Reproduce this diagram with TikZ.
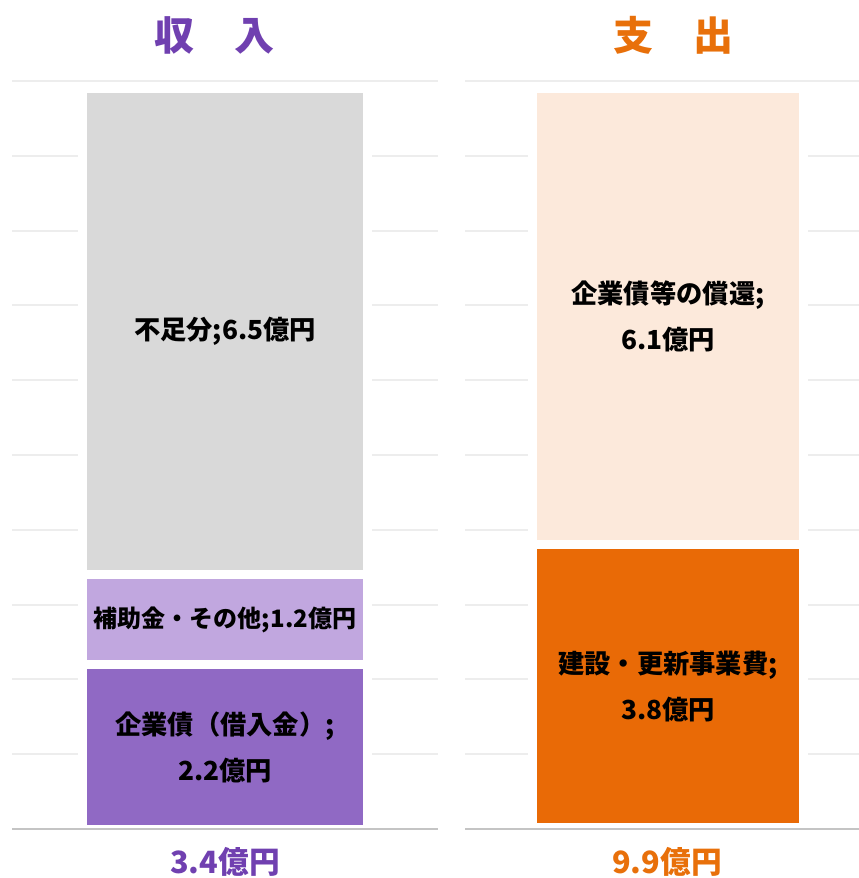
\documentclass[tikz,border=0pt]{standalone}
\usepackage{fontspec}
\setmainfont{Noto Sans CJK JP}
\usetikzlibrary{calc}
\definecolor{titlepurple}{HTML}{7040B0}
\definecolor{darkpurple}{HTML}{9069C4}
\definecolor{lightpurple}{HTML}{C1A7DF}
\definecolor{shortgray}{HTML}{D9D9D9}
\definecolor{peach}{HTML}{FCE9DB}
\definecolor{darkorange}{HTML}{E96A06}
\definecolor{titleorange}{HTML}{E8700A}
\definecolor{gridgray}{HTML}{EDEDED}
\definecolor{basegray}{HTML}{C4C4C4}
\tikzset{
  bar/.style={draw=white,line width=6.75pt,inner sep=0pt,align=center,
    font=\fontsize{19.7}{34.5}\selectfont\bfseries},
  heading/.style={font=\fontsize{30}{30}\selectfont\bfseries},
  total/.style={font=\fontsize{23}{23}\selectfont\bfseries},
}

\begin{document}
\begin{tikzpicture}[x=0.75pt,y=-0.75pt]
      \useasboundingbox (0,0) rectangle (859,878);
      % grid
      \foreach \y in {81,155.8,230.6,305.4,380.2,455,529.8,604.6,679.4,754.2} {
        \draw[gridgray,line width=1.5pt] (12,\y) -- (438,\y);
        \draw[gridgray,line width=1.5pt] (465,\y) -- (859,\y);
      }
      % income
      \node[heading,text=titlepurple] (income) at (214,35) {収　入};
      \node[bar,fill=shortgray,minimum width=213.75pt,minimum height=364.5pt] (deficit) at (225,331.5) {不足分;6.5億円};
      \node[bar,fill=lightpurple,minimum width=213.75pt,minimum height=67.5pt,font=\fontsize{18}{18}\selectfont\bfseries] (subsidy) at (225,619.5) {補助金・その他;1.2億円};
      \node[bar,fill=darkpurple,minimum width=213.75pt,minimum height=123.75pt] (bonds) at (225,747) {企業債（借入金）;\\2.2億円};
      \node[total,text=titlepurple] (incometotal) at (225,862) {3.4億円};
      % expense
      \node[heading,text=titleorange] (expense) at (673,35) {支　出};
      \node[bar,fill=peach,minimum width=203.25pt,minimum height=342pt] (repay) at (668,316.5) {企業債等の償還;\\6.1億円};
      \node[bar,fill=darkorange,minimum width=203.25pt,minimum height=212.25pt] (works) at (668,686) {建設・更新事業費;\\3.8億円};
      \node[total,text=titleorange] (expensetotal) at (667,862) {9.9億円};
      % baselines
      \draw[basegray,line width=1.5pt] (12,829) -- (438,829);
      \draw[basegray,line width=1.5pt] (465,829) -- (859,829);
\end{tikzpicture}
\end{document}
